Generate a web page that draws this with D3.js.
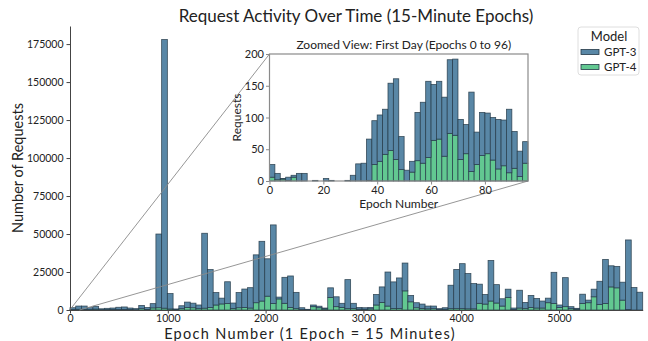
<!DOCTYPE html>
<html>
<head>
<meta charset="utf-8">
<script src="https://cdn.jsdelivr.net/npm/d3@7/dist/d3.min.js"></script>
<style>
  html, body { margin: 0; padding: 0; background: #fff; }
  svg { display: block; }
  text { font-family: "Lato", "Noto Sans", sans-serif; fill: #222; }
</style>
</head>
<body>
<svg id="chart" width="648" height="341"></svg>
<script>
// ---- Data: stacked histogram counts per 15-minute epoch bin ----
const models = ["GPT-3", "GPT-4"];
const modelColors = ["#5987a6", "#62c891"];

// Main view: 100 equal bins spanning epochs 0..5856
const mainExtent = [0, 5856];
const mainGpt3 = [
  1200, 2100, 2200, 1200, 1800, 600, 800, 1000, 1500, 1600,
  1000, 700, 2100, 1300, 2800, 48500, 176800, 10100, 500, 1900,
  3500, 3000, 2400, 49300, 24900, 8200, 3800, 14300, 3600, 10000,
  12100, 13400, 31500, 39300, 24600, 51700, 1200, 17100, 20700, 10700,
  1200, 350, 1100, 1000, 600, 6300, 6500, 2700, 19100, 3400,
  1100, 1000, 900, 6900, 10200, 22400, 17500, 20100, 18300, 4200,
  3300, 2900, 1800, 1700, 600, 1000, 15400, 25800, 29600, 23200,
  16600, 12600, 6300, 26700, 12100, 4800, 5400, 1000, 11700, 4000,
  7900, 6300, 4600, 3000, 20500, 1600, 19100, 1300, 600, 6100,
  1700, 5000, 15200, 29000, 13900, 14100, 11800, 45800, 14800, 11700
];
const mainGpt4 = [
  300, 500, 400, 300, 600, 200, 300, 300, 300, 400,
  300, 200, 900, 400, 1400, 1500, 1200, 700, 200, 900,
  1700, 1500, 900, 1200, 1700, 3300, 4000, 4300, 1000, 1500,
  1700, 1300, 4800, 5900, 9100, 4300, 7300, 4400, 1700, 900,
  300, 100, 2200, 1500, 700, 8300, 2200, 1700, 900, 1000,
  600, 500, 800, 3300, 5000, 2600, 1000, 1000, 12600, 5400,
  1500, 1000, 800, 900, 300, 500, 900, 900, 900, 800,
  800, 4400, 3900, 5900, 4600, 2600, 8300, 300, 1300, 1000,
  1700, 1300, 1300, 4800, 4300, 1700, 2200, 900, 500, 4300,
  4800, 8700, 3700, 4300, 15200, 14600, 6500, 300, 0, 0
];
const mainTicksX = [0, 1000, 2000, 3000, 4000, 5000];
const mainTicksY = [0, 25000, 50000, 75000, 100000, 125000, 150000, 175000];

// Inset: first day, 48 bins of 2 epochs over 0..96
const insetExtent = [0, 96];
const insetGpt3 = [
  20, 10, 1, 5, 3, 12, 12, 0, 1, 0,
  4, 1, 0, 0, 1, 9, 27, 28, 65, 69,
  73, 71, 106, 127, 52, 17, 17, 76, 96, 120,
  88, 91, 93, 116, 120, 63, 46, 125, 51, 68,
  64, 67, 78, 72, 100, 58, 40, 34
];
const insetGpt4 = [
  6, 2, 3, 1, 6, 0, 0, 0, 0, 0,
  0, 0, 0, 0, 0, 0, 0, 0, 1, 26,
  31, 42, 48, 34, 18, 0, 14, 32, 28, 37,
  64, 66, 39, 75, 72, 34, 43, 15, 26, 40,
  43, 33, 19, 24, 13, 20, 7, 28
];
const insetTicksX = [0, 20, 40, 60, 80];
const insetTicksY = [0, 50, 100, 150, 200];

// ---- Helpers ----
function makeBins(extent, gpt3, gpt4) {
  const n = gpt3.length, w = (extent[1] - extent[0]) / n;
  return gpt3.map((v, i) => ({
    x0: extent[0] + i * w, x1: extent[0] + (i + 1) * w,
    "GPT-3": v, "GPT-4": gpt4[i]
  }));
}
// GPT-4 sits at the bottom of each stack, GPT-3 on top
const stacker = d3.stack().keys(["GPT-4", "GPT-3"]);
const colorOf = d3.scaleOrdinal().domain(models).range(modelColors);

function drawStacks(g, bins, x, y) {
  const layers = stacker(bins);
  g.selectAll("g.layer").data(layers).join("g")
    .attr("class", "layer")
    .attr("fill", d => colorOf(d.key))
    .selectAll("rect").data(d => d).join("rect")
      .attr("x", d => x(d.data.x0))
      .attr("width", d => x(d.data.x1) - x(d.data.x0))
      .attr("y", d => y(d[1]))
      .attr("height", d => Math.max(0, y(d[0]) - y(d[1])))
      .attr("stroke", "#233847")
      .attr("stroke-opacity", 0.85)
      .attr("stroke-width", 0.8);
}

function styleAxis(sel, color, size) {
  sel.selectAll(".domain").attr("stroke", color).attr("stroke-width", 1);
  sel.selectAll(".tick line").attr("stroke", color);
  sel.selectAll(".tick text").attr("font-size", size).attr("fill", "#222");
}

const svg = d3.select("#chart");
const intFmt = d3.format("d");

// ---- Main axes ----
const M = { left: 70, right: 642.7, top: 26, bottom: 310 };
const yMax = 178000 * 1.05;
const x = d3.scaleLinear().domain(mainExtent).range([M.left, M.right]);
const y = d3.scaleLinear().domain([0, yMax]).range([M.bottom, M.top]);

const mainBins = makeBins(mainExtent, mainGpt3, mainGpt4);
drawStacks(svg.append("g"), mainBins, x, y);

const gx = svg.append("g").attr("transform", `translate(0,${M.bottom})`)
  .call(d3.axisBottom(x).tickValues(mainTicksX).tickSize(3.5).tickPadding(1.5)
    .tickSizeOuter(0).tickFormat(intFmt));
styleAxis(gx, "#444", 10.5);
const gy = svg.append("g").attr("transform", `translate(${M.left},0)`)
  .call(d3.axisLeft(y).tickValues(mainTicksY).tickSize(3.5).tickPadding(3)
    .tickSizeOuter(0).tickFormat(intFmt));
styleAxis(gy, "#444", 10.5);

svg.append("text").attr("x", 356).attr("y", 22).attr("text-anchor", "middle")
  .attr("font-size", 17).text("Request Activity Over Time (15-Minute Epochs)");
svg.append("text").attr("x", 310).attr("y", 338.5).attr("text-anchor", "middle")
  .attr("font-size", 14.5).attr("letter-spacing", 1.3)
  .text("Epoch Number (1 Epoch = 15 Minutes)");
svg.append("text").attr("transform", `translate(23,${(M.top + M.bottom) / 2}) rotate(-90)`)
  .attr("text-anchor", "middle").attr("font-size", 14.5).text("Number of Requests");

// ---- Inset axes ----
const I = { left: 269.5, right: 528, top: 54, bottom: 181 };
const xi = d3.scaleLinear().domain(insetExtent).range([I.left, I.right]);
const yi = d3.scaleLinear().domain([0, 200]).range([I.bottom, I.top]);

// connector lines from the zoomed region in the main view to the inset corners
const connectors = [
  [[x(insetExtent[0]), y(200)], [I.left, I.top]],
  [[x(insetExtent[1]), y(0)], [I.right, I.bottom]]
];
svg.append("g").selectAll("line").data(connectors).join("line")
  .attr("x1", d => d[0][0]).attr("y1", d => d[0][1])
  .attr("x2", d => d[1][0]).attr("y2", d => d[1][1])
  .attr("stroke", "#8a8a8a").attr("stroke-width", 0.9);

const inset = svg.append("g");
inset.append("rect").attr("x", I.left).attr("y", I.top)
  .attr("width", I.right - I.left).attr("height", I.bottom - I.top).attr("fill", "#fff");
const insetBins = makeBins(insetExtent, insetGpt3, insetGpt4);
drawStacks(inset.append("g"), insetBins, xi, yi);
inset.append("rect").attr("x", I.left).attr("y", I.top)
  .attr("width", I.right - I.left).attr("height", I.bottom - I.top)
  .attr("fill", "none").attr("stroke", "#8a8a8a").attr("stroke-width", 1.2);

const gxi = inset.append("g").attr("transform", `translate(0,${I.bottom})`)
  .call(d3.axisBottom(xi).tickValues(insetTicksX).tickSize(3.5).tickPadding(2).tickSizeOuter(0));
styleAxis(gxi, "#8a8a8a", 11);
gxi.select(".domain").remove();
const gyi = inset.append("g").attr("transform", `translate(${I.left},0)`)
  .call(d3.axisLeft(yi).tickValues(insetTicksY).tickSize(3.5).tickPadding(2).tickSizeOuter(0));
styleAxis(gyi, "#8a8a8a", 11);
gyi.select(".domain").remove();

inset.append("text").attr("x", (I.left + I.right) / 2 + 5).attr("y", 49).attr("text-anchor", "middle")
  .attr("font-size", 12).text("Zoomed View: First Day (Epochs 0 to 96)");
inset.append("text").attr("x", (I.left + I.right) / 2).attr("y", 208).attr("text-anchor", "middle")
  .attr("font-size", 12).text("Epoch Number");
inset.append("text").attr("transform", `translate(241,${(I.top + I.bottom) / 2}) rotate(-90)`)
  .attr("text-anchor", "middle").attr("font-size", 12).text("Requests");

// ---- Legend ----
const lg = svg.append("g").attr("transform", "translate(578,27)");
lg.append("rect").attr("width", 61).attr("height", 48).attr("rx", 3)
  .attr("fill", "#fff").attr("fill-opacity", 0.8).attr("stroke", "#d6d6d6").attr("stroke-width", 0.8);
lg.append("text").attr("x", 31).attr("y", 14).attr("text-anchor", "middle")
  .attr("font-size", 13).text("Model");
const items = lg.selectAll("g.item").data(models).join("g")
  .attr("class", "item").attr("transform", (d, i) => `translate(3,${25 + i * 15})`);
items.append("rect").attr("width", 18).attr("height", 5).attr("y", -2.5)
  .attr("fill", d => colorOf(d)).attr("stroke", "#233847").attr("stroke-width", 0.8);
items.append("text").attr("x", 23).attr("y", 4).attr("font-size", 11.5).text(d => d);
</script>
</body>
</html>
